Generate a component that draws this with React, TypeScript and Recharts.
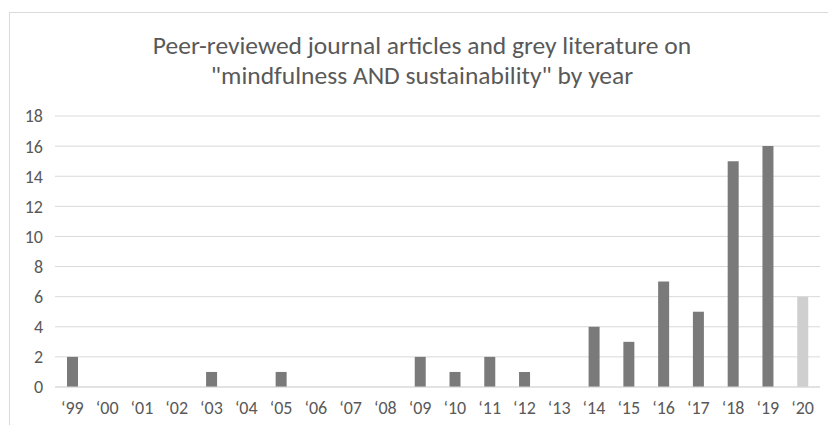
import React from 'react';
import { BarChart, Bar, XAxis, YAxis, CartesianGrid, Cell } from 'recharts';

const years = ['‘99', '‘00', '‘01', '‘02', '‘03', '‘04', '‘05', '‘06', '‘07', '‘08', '‘09', '‘10', '‘11', '‘12', '‘13', '‘14', '‘15', '‘16', '‘17', '‘18', '‘19', '‘20'];
const counts = [2, 0, 0, 0, 1, 0, 1, 0, 0, 0, 2, 1, 2, 1, 0, 4, 3, 7, 5, 15, 16, 6];
const yTicks = [0, 2, 4, 6, 8, 10, 12, 14, 16, 18];

const data = years.map((year, i) => ({ year, count: counts[i] }));

const font = 'Calibri, Carlito, "Open Sans", sans-serif';

export default function App() {
  return (
    <div
      style={{
        position: 'absolute',
        left: 9,
        top: 12,
        width: 840,
        height: 430,
        border: '1px solid #d9d9d9',
        background: '#fff',
        fontFamily: font,
      }}
    >
      <div
        style={{
          position: 'absolute',
          left: 0,
          top: 18,
          width: 824,
          textAlign: 'center',
          color: '#595959',
          fontSize: 25.5,
          lineHeight: '30px',
        }}
      >
        Peer-reviewed journal articles and grey literature on
        <br />
        "mindfulness AND sustainability" by year
      </div>
      <BarChart
        width={840}
        height={430}
        data={data}
        margin={{ top: 103, right: 30, bottom: 26, left: 0 }}
      >
        <CartesianGrid vertical={false} stroke="#d9d9d9" />
        <XAxis
          dataKey="year"
          axisLine={{ stroke: '#d9d9d9' }}
          tickLine={false}
          tickSize={0}
          tickMargin={14}
          height={30}
          interval={0}
          tick={{ fill: '#595959', fontSize: 18, fontFamily: font }}
        />
        <YAxis
          domain={[0, 18]}
          ticks={yTicks}
          axisLine={false}
          tickLine={false}
          tickSize={0}
          tickMargin={12}
          width={45}
          tick={{ fill: '#595959', fontSize: 18, fontFamily: font }}
        />
        <Bar dataKey="count" barSize={11} isAnimationActive={false}>
          {data.map((d, i) => (
            <Cell key={d.year} fill={i === data.length - 1 ? '#cfcfcf' : '#7a7a7a'} />
          ))}
        </Bar>
      </BarChart>
    </div>
  );
}
